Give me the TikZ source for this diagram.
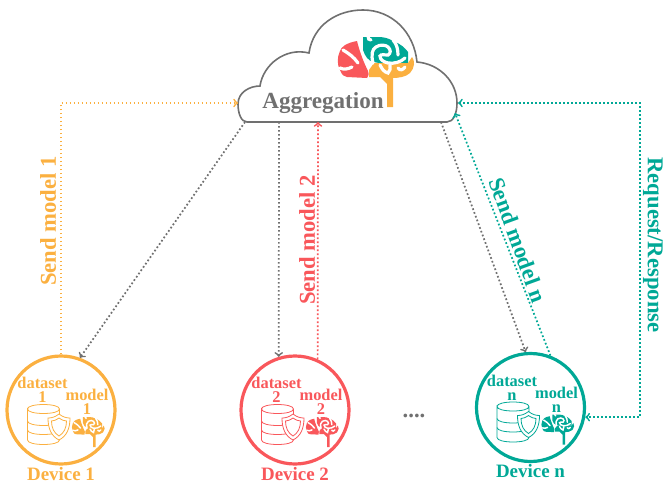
\documentclass[tikz,border=0pt]{standalone}
\usepackage{fontspec}
\setmainfont{Liberation Serif}
\usetikzlibrary{arrows}

\definecolor{orangeC}{HTML}{FBB040}
\definecolor{redC}{HTML}{F9575B}
\definecolor{tealC}{HTML}{00A896}
\definecolor{greyC}{HTML}{707070}

\tikzset{
    link/.style={->,line width=1.3pt,dash pattern=on 1.3pt off 1.7pt},
    device/.style={circle,draw,line width=2.4pt,minimum size=81pt,inner sep=0pt},
    lab/.style={font=\bfseries\fontsize{14.2}{15}\selectfont,inner sep=0pt},
    sendlab/.style={font=\bfseries\fontsize{17}{18}\selectfont,inner sep=0pt},
    small/.style={font=\bfseries\fontsize{12.3}{10.5}\selectfont,align=center,inner sep=0pt},
}

% the tree shaped brain: #1 red part, #2 top part, #3 lower part, #4 width of the cuts
\newcommand{\brainicon}[4]{%
    \fill [#1] (19,4) .. controls (8,6) and (3,10) .. (2,14) .. controls (-1,20) and (-1,28) .. (2,33) .. controls (4,38) and (6,40) .. (9,40) -- (29,41) .. controls (31,38) and (31,36) .. (30,34) .. controls (26,26) and (22,16) .. (19,4) -- cycle;
    \fill [#2] (25,0) -- (25,13) .. controls (27,19) and (30,24) .. (36,25) -- (41,26) -- (70,26) -- (70,15) .. controls (67,11) and (63,7) .. (55,4) .. controls (50,1) and (46,0) .. (39,0) -- cycle;
    \fill [#3] (36,26) -- (70,26) -- (74,20) .. controls (77,23) and (77,31) .. (72,36) .. controls (68,40) and (60,41) .. (55,41) -- (55,70) -- (49,70) -- (49,47) -- (42,40) -- (31,40) -- (31,33) -- cycle;
    \begin{scope}[white,line width=#4,line cap=round]
        \draw (5,13) .. controls (10,16) and (16,20) .. (20,26);
        \draw (2,31) .. controls (6,33) and (10,32) .. (14,30);
        \draw (30,-1) .. controls (30,2) and (31,3) .. (33,3);
        \draw (35,26) .. controls (33,18) and (34,12) .. (38,10) .. controls (42,7) and (48,8) .. (50,10) .. controls (53,13) and (53,16) .. (50,18) .. controls (46,18) and (43,17) .. (42,19) .. controls (42,23) and (46,25) .. (50,26) .. controls (56,27) and (63,25) .. (67,21);
        \draw (55,3) .. controls (59,7) and (60,13) .. (60,18);
        \draw (42,28) .. controls (44,32) and (46,35) .. (50,36) .. controls (52,34) and (53,31) .. (52,28);
        \draw (60,31) .. controls (62,34) and (65,33) .. (67,30);
    \end{scope}
}

\begin{document}
\begin{tikzpicture}[x=0.75pt,y=-0.75pt]
    \useasboundingbox (0,0) rectangle (663,482);

    % cloud
    \coordinate (cloudW) at (238,103);
    \coordinate (cloudE) at (458,103);
    \coordinate (cloudA) at (245,122);
    \coordinate (cloudB) at (279,122);
    \coordinate (cloudC) at (318,122);
    \coordinate (cloudD) at (441,122);
    \coordinate (cloudF) at (455,113);
    \draw [greyC,line width=1.2pt] (247,122) .. controls (241,122) and (238,113) .. (238,104)
        .. controls (238,92) and (250,86) .. (260,86)
        .. controls (263,65) and (285,47) .. (309,53)
        .. controls (313,25) and (337,10) .. (363,10)
        .. controls (392,10) and (414,32) .. (417,62)
        .. controls (440,64) and (457,82) .. (457,103)
        .. controls (457,114) and (453,122) .. (447,122) -- cycle;
    \begin{scope}[shift={(338,37)}]
        \brainicon{redC}{tealC}{orangeC}{2.4pt}
    \end{scope}
    \node [text=greyC,font=\bfseries\fontsize{17.3}{18}\selectfont,inner sep=0pt] (aggr) at (323,103) {Aggregation};

    % devices
    \foreach \name/\cx/\cy/\col/\num in {dev1/61/410/orangeC/1,dev2/295/410/redC/2,devn/530.5/407.5/tealC/n}{%
        \node [device,draw=\col] (\name) at (\cx,\cy) {};
        \begin{scope}[shift={(\cx,\cy)},draw=\col,text=\col]
            \node [small] (\name-data) at (-18.5,-20) {dataset\\\num};
            \node [small] (\name-model) at (26,-8) {model\\\num};
            \node [lab] (\name-label) at (0,64) {Device \num};
            % database
            \draw [line width=0.6pt] (-33.5,-1) .. controls (-33.5,-7) and (-1.5,-7) .. (-1.5,-1) .. controls (-1.5,5) and (-33.5,5) .. (-33.5,-1) -- (-33.5,30) .. controls (-33.5,36) and (-1.5,36) .. (-1.5,30) -- (-1.5,-1);
            \draw [line width=0.6pt] (-33.5,11) .. controls (-33.5,17) and (-1.5,17) .. (-1.5,11);
            \draw [line width=0.6pt] (-33.5,20) .. controls (-33.5,26) and (-1.5,26) .. (-1.5,20);
            % shield
            \draw [line width=0.6pt,fill=white] (-2,4) .. controls (-6,7) and (-9,8) .. (-13,8) .. controls (-13,18) and (-10,26) .. (-2,30) .. controls (6,26) and (9,18) .. (9,8) .. controls (5,8) and (2,7) .. (-2,4) -- cycle;
            \draw [line width=0.6pt] (-2,8) .. controls (-5,10) and (-7,11) .. (-9.5,11) .. controls (-9.5,18) and (-7,23) .. (-2,26) .. controls (3,23) and (5.5,18) .. (5.5,11) .. controls (3,11) and (1,10) .. (-2,8) -- cycle;
            \begin{scope}[shift={(11,7)},scale=0.43]
                \brainicon{\col}{\col}{\col}{1.1pt}
            \end{scope}
        \end{scope}
    }
    \node [text=greyC,font=\bfseries\fontsize{17}{18}\selectfont,inner sep=0pt] (dots) at (414,416) {....};

    % links
    \draw [link,orangeC] (dev1.90) |- (cloudW);
    \draw [link,greyC] (cloudA) -- (dev1.70);
    \draw [link,greyC] (cloudB) -- (dev2.107);
    \draw [link,redC] (dev2.66) -- (cloudC);
    \draw [link,greyC] (cloudD) -- (devn.95);
    \draw [link,tealC] (devn.69) -- (cloudF);
    \coordinate (reqtop) at (640,103);
    \draw [link,tealC,<->] (cloudE) -- (reqtop) |- (devn.-10);

    % link labels
    \node [sendlab,text=orangeC,rotate=90] (send1) at (48,221) {Send model 1};
    \node [sendlab,text=redC,rotate=90] (send2) at (307,240) {Send model 2};
    \node [sendlab,text=tealC,rotate=-70] (sendn) at (518,240) {Send model n};
    \node [sendlab,text=tealC,rotate=-90] (req) at (653,245) {Request/Response};
\end{tikzpicture}
\end{document}
